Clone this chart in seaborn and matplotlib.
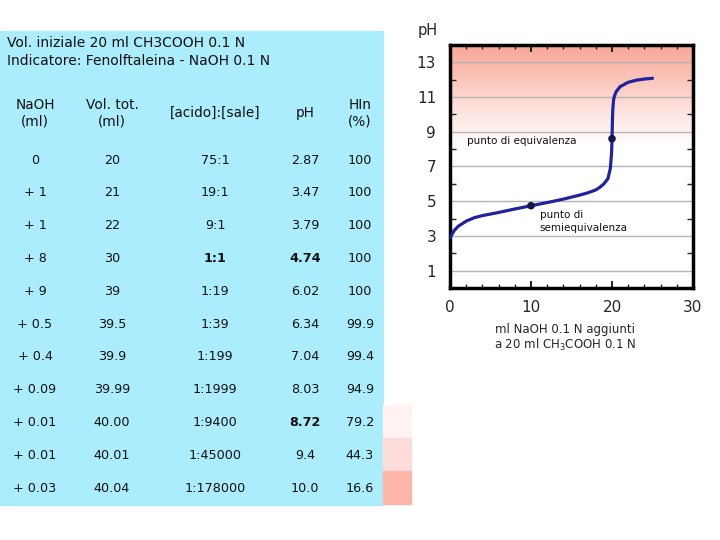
import numpy as np
import matplotlib
matplotlib.use("Agg")
import matplotlib.pyplot as plt
from matplotlib.patches import Rectangle
from matplotlib.colors import LinearSegmentedColormap
import pandas as pd
import seaborn as sns

# table data
naoh_ml = ["0", "+ 1", "+ 1", "+ 8", "+ 9", "+ 0.5", "+ 0.4", "+ 0.09", "+ 0.01", "+ 0.01", "+ 0.03"]
vol_tot = ["20", "21", "22", "30", "39", "39.5", "39.9", "39.99", "40.00", "40.01", "40.04"]
ratio = ["75:1", "19:1", "9:1", "1:1", "1:19", "1:39", "1:199", "1:1999", "1:9400", "1:45000", "1:178000"]
ph_tab = ["2.87", "3.47", "3.79", "4.74", "6.02", "6.34", "7.04", "8.03", "8.72", "9.4", "10.0"]
hin = ["100", "100", "100", "100", "100", "99.9", "99.4", "94.9", "79.2", "44.3", "16.6"]
swatch_colors = ["#fff3f1", "#ffdcdc", "#ffb6a9"]

# titration curve
vol = [0, 0.5, 1, 2, 3, 4, 6, 8, 10, 12, 14, 16, 17, 18, 18.5, 19, 19.5, 19.8,
       19.95, 20.0, 20.05, 20.1, 20.2, 20.3, 20.5, 21, 22, 23, 24, 25]
ph = [2.87, 3.3, 3.55, 3.85, 4.05, 4.17, 4.35, 4.55, 4.74, 4.92, 5.12, 5.35, 5.48,
      5.65, 5.8, 6.0, 6.3, 6.9, 7.8, 8.6, 9.6, 10.3, 10.85, 11.05, 11.3, 11.6, 11.85, 11.97, 12.04, 12.08]
marked_vol = [10, 20]
marked_ph = [4.74, 8.6]

sns.set_style("ticks")
plt.rcParams['font.family'] = ['DejaVu Sans']

fig = plt.figure(figsize=(7.2, 5.4), dpi=100)

# ---- table (pixel coordinates on a full-figure axes)
bg = fig.add_axes([0, 0, 1, 1])
bg.set_xlim(0, 720)
bg.set_ylim(540, 0)
bg.axis('off')
bg.add_patch(Rectangle((0, 31), 383, 474, color="#abedfc", zorder=0))
for i, c in enumerate(swatch_colors):
    bg.add_patch(Rectangle((383, 405 + 33 * i), 28, 33, color=c, zorder=0))

bg.text(7, 43, "Vol. iniziale 20 ml CH3COOH 0.1 N", fontsize=10, va='center', color='#111')
bg.text(7, 61, "Indicatore: Fenolftaleina - NaOH 0.1 N", fontsize=10, va='center', color='#111')

col_x = [35, 112, 215, 305, 360]
headers = ["NaOH\n(ml)", "Vol. tot.\n(ml)", "[acido]:[sale]", "pH", "HIn\n(%)"]
for x, h in zip(col_x, headers):
    bg.text(x, 113, h, fontsize=9.8, ha='center', va='center', linespacing=1.25, color='#111')

bold = {(3, 2), (3, 3), (8, 3)}
for i, row in enumerate(zip(naoh_ml, vol_tot, ratio, ph_tab, hin)):
    y = 160 + 32.8 * i
    for j, (x, v) in enumerate(zip(col_x, row)):
        bg.text(x, y, v, fontsize=9.2, ha='center', va='center', color='#111',
                fontweight='bold' if (i, j) in bold else 'normal')

# ---- titration plot
ax = fig.add_axes([0.625, 0.4667, 0.3375, 0.45])
cmap = LinearSegmentedColormap.from_list("pink", ["#ffffff", "#fde4df", "#fbc5bb", "#f9a696"])
grad = np.linspace(0, 1, 200).reshape(-1, 1)
ax.imshow(grad, extent=[0, 30, 8.2, 14], origin='lower', aspect='auto', cmap=cmap, zorder=0)

df = pd.DataFrame({"vol": vol, "ph": ph})
sns.lineplot(data=df, x="vol", y="ph", ax=ax, color="#22229a", lw=2.3, sort=False, zorder=3)
sns.scatterplot(x=marked_vol, y=marked_ph, ax=ax, color="#15154d", s=30, zorder=4, edgecolor='none')

ax.set_xlim(0, 30)
ax.set_ylim(0, 14)
ax.set_xticks([0, 10, 20, 30])
ax.set_xticks(np.arange(0, 31, 2), minor=True)
ax.set_yticks([1, 3, 5, 7, 9, 11, 13])
ax.set_yticks(np.arange(0, 15, 2), minor=True)
ax.yaxis.grid(True, color='#b5b5b5', lw=1, zorder=1)
ax.set_axisbelow(True)
ax.tick_params(axis='x', which='major', direction='in', length=5, width=1.5, top=True, labelsize=11, pad=9)
ax.tick_params(axis='x', which='minor', direction='in', length=3, width=1, top=True)
ax.tick_params(axis='y', which='major', length=0, labelsize=11, pad=10)
ax.tick_params(axis='y', which='minor', direction='in', length=4, width=1, right=True)
for s in ax.spines.values():
    s.set_linewidth(2.5)
    s.set_color('black')
ax.set_xlabel("")
ax.set_ylabel("")

ax.text(2.06, 8.48, "punto di equivalenza", fontsize=7.5, va='center', ha='left', color='#111', zorder=5)
ax.text(11.1, 3.83, "punto di\nsemiequivalenza", fontsize=7.5, va='center', ha='left',
        linespacing=1.45, color='#111', zorder=5)

fig.text(428 / 720, 1 - 31 / 540, "pH", fontsize=10.5, ha='center', va='center')
fig.text(565 / 720, 1 - 338 / 540, "ml NaOH 0.1 N aggiunti\na 20 ml CH$_3$COOH 0.1 N",
         fontsize=8.5, ha='center', va='center', linespacing=1.15)

fig.savefig("out.png", dpi=100)
